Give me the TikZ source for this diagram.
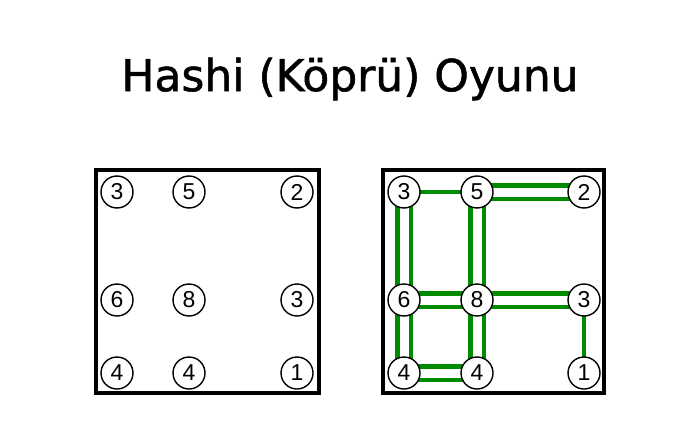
\documentclass[tikz,border=0pt]{standalone}
\usepackage{fontspec}
\setmainfont{Liberation Sans}
\newfontfamily\titlefont[FakeBold=1.2]{DejaVu Sans}
\begin{document}
\begin{tikzpicture}[x=1pt,y=-1pt,
  island/.style={circle,draw=black,line width=1.4pt,fill=white,minimum size=32pt,inner sep=0pt,font=\fontsize{23}{23}\selectfont},
  frame/.style={draw=black,line width=4.2pt},
  bridge/.style={draw=green!55!black,line width=4.4pt},
]
\useasboundingbox (0,0) rectangle (700,441);
\node (title) at (350,79) {\titlefont\fontsize{44}{44}\selectfont Hashi (Köprü) Oyunu};
% left panel
\draw[frame] (96,170) rectangle (319,393);
\node[island] (a1) at (117,192) {3};
\node[island] (a2) at (189,192) {5};
\node[island] (a3) at (297,192) {2};
\node[island] (a4) at (117,300) {6};
\node[island] (a5) at (189,300) {8};
\node[island] (a6) at (297,300) {3};
\node[island] (a7) at (117,373) {4};
\node[island] (a8) at (189,373) {4};
\node[island] (a9) at (297,373) {1};
% right panel
\draw[frame] (383,170) rectangle (604,393);
\coordinate (c1) at (404,192);
\coordinate (c2) at (477,192);
\coordinate (c3) at (584,192);
\coordinate (c4) at (404,300);
\coordinate (c5) at (477,300);
\coordinate (c6) at (584,300);
\coordinate (c7) at (404,373);
\coordinate (c8) at (477,373);
\coordinate (c9) at (584,373);
% bridges
\path[bridge] (c1) -- (c2);
\path[bridge] ([yshift=-6.7pt]c2) -- ([yshift=-6.7pt]c3);
\path[bridge] ([yshift=6.7pt]c2) -- ([yshift=6.7pt]c3);
\path[bridge] ([xshift=-6.7pt]c1) -- ([xshift=-6.7pt]c4);
\path[bridge] ([xshift=6.7pt]c1) -- ([xshift=6.7pt]c4);
\path[bridge] ([xshift=-6.7pt]c2) -- ([xshift=-6.7pt]c5);
\path[bridge] ([xshift=6.7pt]c2) -- ([xshift=6.7pt]c5);
\path[bridge] ([yshift=-6.7pt]c4) -- ([yshift=-6.7pt]c5);
\path[bridge] ([yshift=6.7pt]c4) -- ([yshift=6.7pt]c5);
\path[bridge] ([yshift=-6.7pt]c5) -- ([yshift=-6.7pt]c6);
\path[bridge] ([yshift=6.7pt]c5) -- ([yshift=6.7pt]c6);
\path[bridge] (c6) -- (c9);
\path[bridge] ([xshift=-6.7pt]c4) -- ([xshift=-6.7pt]c7);
\path[bridge] ([xshift=6.7pt]c4) -- ([xshift=6.7pt]c7);
\path[bridge] ([xshift=-6.7pt]c5) -- ([xshift=-6.7pt]c8);
\path[bridge] ([xshift=6.7pt]c5) -- ([xshift=6.7pt]c8);
\path[bridge] ([yshift=-6.7pt]c7) -- ([yshift=-6.7pt]c8);
\path[bridge] ([yshift=6.7pt]c7) -- ([yshift=6.7pt]c8);
\node[island] (b1) at (c1) {3};
\node[island] (b2) at (c2) {5};
\node[island] (b3) at (c3) {2};
\node[island] (b4) at (c4) {6};
\node[island] (b5) at (c5) {8};
\node[island] (b6) at (c6) {3};
\node[island] (b7) at (c7) {4};
\node[island] (b8) at (c8) {4};
\node[island] (b9) at (c9) {1};
\end{tikzpicture}
\end{document}
